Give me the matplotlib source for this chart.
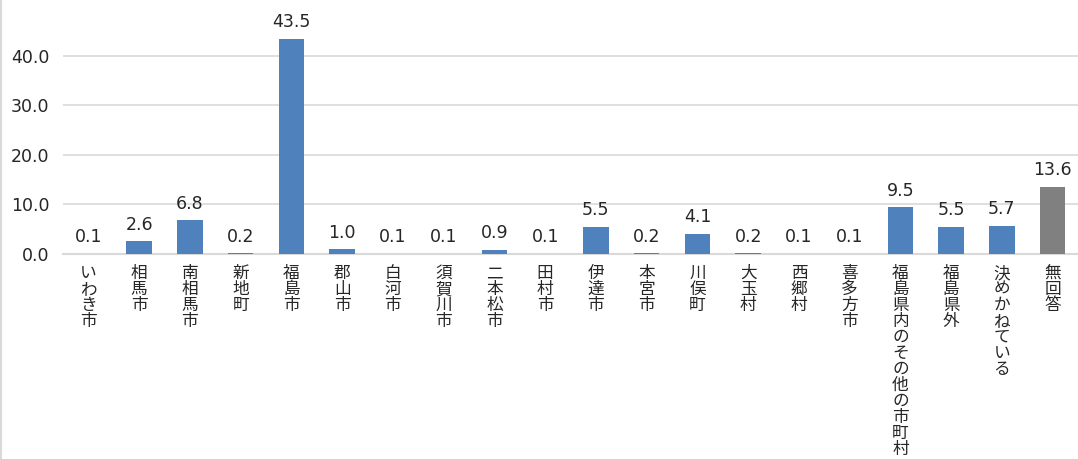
import matplotlib
matplotlib.use("Agg")
import matplotlib.pyplot as plt
from matplotlib.lines import Line2D

categories = ["いわき市", "相馬市", "南相馬市", "新地町", "福島市", "郡山市", "白河市",
              "須賀川市", "二本松市", "田村市", "伊達市", "本宮市", "川俣町", "大玉村",
              "西郷村", "喜多方市", "福島県内のその他の市町村", "福島県外", "決めかねている", "無回答"]
values = [0.1, 2.6, 6.8, 0.2, 43.5, 1.0, 0.1, 0.1, 0.9, 0.1, 5.5, 0.2, 4.1, 0.2,
          0.1, 0.1, 9.5, 5.5, 5.7, 13.6]
yticks = [0, 10, 20, 30, 40]

plt.rcParams['font.family'] = ['Noto Sans CJK JP', 'DejaVu Sans']

fig = plt.figure(figsize=(10.78, 4.59), dpi=100)
ax = fig.add_axes([0.0585, 0.4466, 0.9415, 0.5394])

colors = ["#4f81bd"] * (len(values) - 1) + ["#808080"]
x = list(range(len(values)))
bars = ax.bar(x, values, width=0.5, color=colors, zorder=3)

for xi, v in zip(x, values):
    ax.text(xi, v + 1.5, f"{v:.1f}", ha="center", va="bottom", fontsize=12.5,
            color="#262626", family=["DejaVu Sans"])

ax.set_ylim(0, 50)
ax.set_xlim(-0.5, len(values) - 0.5)
ax.set_yticks(yticks)
ax.set_yticklabels([f"{t:.1f}" for t in yticks], fontsize=12.5, color="#262626",
                   family=["DejaVu Sans"])
ax.yaxis.grid(True, color="#d9d9d9", linewidth=1.2, zorder=0)
ax.tick_params(axis="y", length=0, pad=10)
ax.tick_params(axis="x", length=0, pad=8)
ax.set_xticks(x)
ax.set_xticklabels(["\n".join(c) for c in categories], fontsize=12, color="#262626",
                   linespacing=0.92, va="top")
for s in ["top", "right", "left"]:
    ax.spines[s].set_visible(False)
ax.spines["bottom"].set_color("#d9d9d9")
ax.spines["bottom"].set_linewidth(1.5)

fig.add_artist(Line2D([0.0012, 0.0012], [0, 1], transform=fig.transFigure,
                      color="#d9d9d9", linewidth=1.5))

fig.savefig("out.png", dpi=100)
